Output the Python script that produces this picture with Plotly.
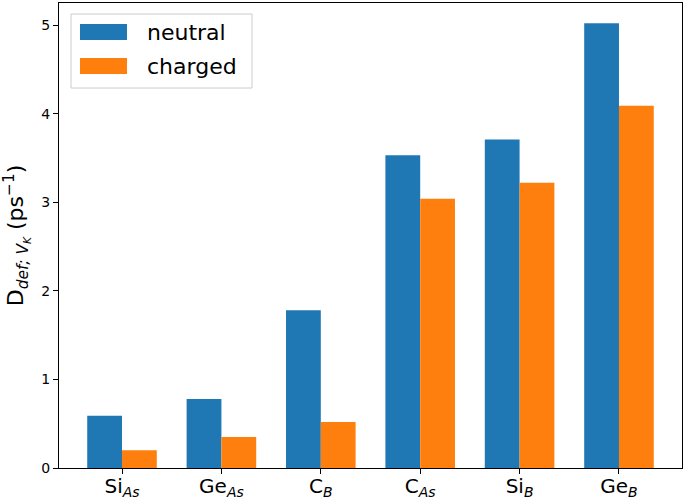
import plotly.graph_objects as go

categories = ["Si<sub><i>As</i></sub>", "Ge<sub><i>As</i></sub>", "C<sub><i>B</i></sub>",
              "C<sub><i>As</i></sub>", "Si<sub><i>B</i></sub>", "Ge<sub><i>B</i></sub>"]
neutral = [0.59, 0.78, 1.78, 3.53, 3.71, 5.02]
charged = [0.20, 0.35, 0.52, 3.04, 3.22, 4.09]
series_names = ["neutral", "charged"]
colors = ["#1f77b4", "#ff7f0e"]

x = list(range(len(categories)))
fig = go.Figure()
for name, vals, c in zip(series_names, [neutral, charged], colors):
    fig.add_trace(go.Bar(x=x, y=vals, name=name, marker=dict(color=c, line=dict(width=0)),
                         showlegend=False))

W, H = 685, 502
l, r, t, b = 59, 3, 3, 34
pw, ph = W - l - r, H - t - b

def px(xp):
    return (xp - l) / pw

def py(yp):
    return (H - b - yp) / ph

shapes = [
    dict(type="rect", xref="paper", yref="paper", x0=px(71), x1=px(252), y0=py(88), y1=py(14),
         line=dict(color="#cccccc", width=1), fillcolor="rgba(255,255,255,0.8)", layer="above"),
]
annotations = []
for i, (name, c) in enumerate(zip(series_names, colors)):
    y0 = 24 + i * 34
    shapes.append(dict(type="rect", xref="paper", yref="paper", x0=px(80), x1=px(127),
                       y0=py(y0 + 16), y1=py(y0), line=dict(width=0), fillcolor=c, layer="above"))
    annotations.append(dict(xref="paper", yref="paper", x=px(145), y=py(y0 + 8), text=name,
                            showarrow=False, xanchor="left", yanchor="middle",
                            font=dict(size=22, color="#000000")))

fig.update_layout(
    width=W, height=H,
    margin=dict(l=l, r=r, t=t, b=b, autoexpand=False),
    plot_bgcolor="white", paper_bgcolor="white",
    barmode="group", bargap=0.3, bargroupgap=0,
    showlegend=False,
    font=dict(family="DejaVu Sans", color="#000000"),
    shapes=shapes, annotations=annotations,
    xaxis=dict(range=[-0.634, 5.634], tickmode="array", tickvals=x, ticktext=categories,
               ticks="outside", ticklen=5, tickcolor="black", tickfont=dict(size=20),
               automargin=False, ticklabelstandoff=-5,
               showline=True, linecolor="black", mirror=True, showgrid=False, zeroline=False),
    yaxis=dict(range=[0, 5.25], tickvals=[0, 1, 2, 3, 4, 5], ticks="outside", ticklen=5,
               tickcolor="black", tickfont=dict(size=14), automargin=False,
               showline=True, linecolor="black", mirror=True, showgrid=False, zeroline=False,
               title=dict(text="D<sub><i>def; V<sub>K</sub></i></sub> (ps<sup>−1</sup>)",
                          font=dict(size=22), standoff=14)),
)
fig.write_html("out.html", config={"displayModeBar": False},
               post_script="document.body.style.margin='0';document.body.style.overflow='hidden';")
